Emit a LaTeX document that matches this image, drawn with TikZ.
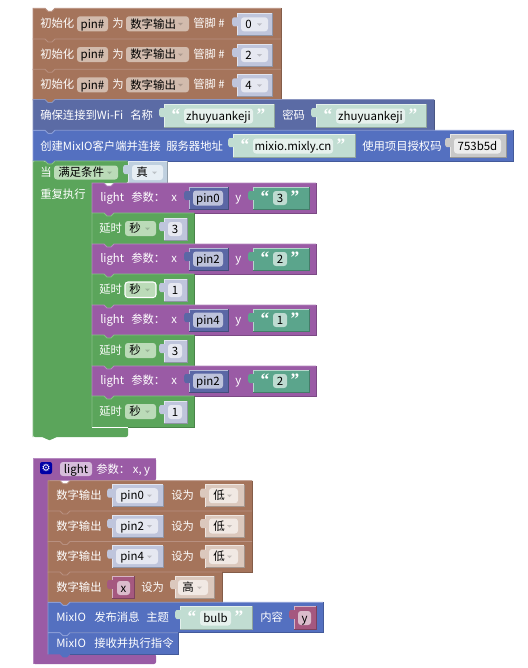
\documentclass[tikz,border=0pt]{standalone}
\usepackage{fontspec}
\setmainfont{Noto Sans CJK SC}
\newfontfamily\qfont{Liberation Serif}
\newfontfamily\gearfont{DejaVu Sans}
\definecolor{brownB}{HTML}{A5745B}\definecolor{brownL}{HTML}{B89080}\definecolor{brownF}{HTML}{D2BBAD}
\definecolor{wifiB}{HTML}{5B6BA5}\definecolor{wifiL}{HTML}{8A95C0}
\definecolor{clientB}{HTML}{5470C0}\definecolor{clientL}{HTML}{8A9DD8}
\definecolor{greenB}{HTML}{5BA55B}\definecolor{greenL}{HTML}{86C086}\definecolor{greenF}{HTML}{BBDBB8}
\definecolor{purpB}{HTML}{9A5BA5}\definecolor{purpL}{HTML}{B68AC0}\definecolor{purpF}{HTML}{D7BDDB}
\definecolor{numB}{HTML}{BFC5DC}\definecolor{numF}{HTML}{E6E8F1}
\definecolor{strB}{HTML}{C1DDD2}\definecolor{strF}{HTML}{E6F1ED}
\definecolor{tealB}{HTML}{5BA58C}\definecolor{tealF}{HTML}{BEDBD1}
\definecolor{pinB}{HTML}{5B67A5}\definecolor{pinF}{HTML}{BDC2DB}
\definecolor{grayB}{HTML}{C8C8C8}\definecolor{grayF}{HTML}{EDEDED}
\definecolor{boolB}{HTML}{BFD0DF}\definecolor{boolF}{HTML}{E6EEF4}
\definecolor{lowB}{HTML}{DBC8BD}\definecolor{lowF}{HTML}{F1E9E4}
\definecolor{varB}{HTML}{A5587F}\definecolor{varF}{HTML}{DBBCCC}
\newcounter{nn}
\tikzset{
 lbl/.style={anchor=west,inner sep=0pt,text=white,font=\fontsize{8.5pt}{10pt}\selectfont,text height=8pt,text depth=1.6pt},
 ftxt/.style={anchor=center,inner sep=0pt,text=black,font=\fontsize{8.6pt}{10pt}\selectfont,text height=8pt,text depth=1.6pt},
 dtxt/.style={anchor=west,inner sep=0pt,text=black,font=\fontsize{8.6pt}{10pt}\selectfont,text height=8pt,text depth=1.6pt},
 qtxt/.style={anchor=center,inner sep=0pt,font=\qfont\bfseries\fontsize{13pt}{13pt}\selectfont}
}
% label: x, y-centre, text
\newcommand{\tx}[3]{\stepcounter{nn}\node[lbl] (n\thenn) at (#1,#2) {#3};}
% statement block with top notch and bottom tab: x1,y1,x2,y2,fill,edge
\newcommand{\blk}[6]{\fill[#5] (#1,#2) -- ++(12,0) -- ++(3,3) -- ++(4,0) -- ++(3,-3) -- (#3,#2) -- (#3,#4) -- ({#1+22},#4) -- ++(-3,3) -- ++(-4,0) -- ++(-3,-3) -- (#1,#4) -- cycle;
 \draw[#6,line width=.6pt] (#1,#4) -- (#1,#2) -- ++(12,0) -- ++(3,3) -- ++(4,0) -- ++(3,-3) -- (#3,#2);
 \draw[#5!80!black,line width=.4pt] (#3,#2) -- (#3,#4) -- ({#1+22},#4);}
% value block with a left tab: x1,y1,x2,y2,fill
\newcommand{\val}[5]{\fill[#5] (#1,#2) -- (#3,#2) -- (#3,#4) -- (#1,#4) -- ({#1},{#2+13}) .. controls ({#1-2},{#2+14}) and ({#1-5},{#2+13}) .. ({#1-5},{#2+10}) -- ({#1-5},{#2+7}) .. controls ({#1-5},{#2+4}) and ({#1-2},{#2+3}) .. ({#1},{#2+4}) -- cycle;
 \draw[#5!75!black,line width=.4pt] (#1,#4) -- (#3,#4) -- (#3,#2);
 \draw[white!55!#5,line width=.4pt] (#1,#4) -- (#1,{#2+13}) (#1,{#2+4}) -- (#1,#2) -- (#3,#2);}
% field with centred text: x1,x2,yc,h,fill,text
\newcommand{\fld}[6]{\fill[#5,rounded corners=2.2pt] (#1,{#3-#4/2}) rectangle (#2,{#3+#4/2});
 \stepcounter{nn}\node[ftxt] (n\thenn) at ({(#1+#2)/2},#3) {#6};}
% dropdown field: x1,x2,yc,h,fill,text
\newcommand{\ddn}[6]{\fill[#5,rounded corners=2.2pt] (#1,{#3-#4/2}) rectangle (#2,{#3+#4/2});
 \stepcounter{nn}\node[dtxt] (n\thenn) at ({#1+4},#3) {#6};
 \fill[black!18!#5] ({#2-11},{#3-1}) -- ({#2-6},{#3-1}) -- ({#2-8.5},{#3+1.5}) -- cycle;}
% quotes: x-open,x-close,yc,colour
\newcommand{\qts}[4]{\stepcounter{nn}\node[qtxt,text=#4] (n\thenn) at (#1,{#3-1}) {“};
 \stepcounter{nn}\node[qtxt,text=#4] (n\thenn) at (#2,{#3-1}) {”};}
\newcommand{\lightrow}[3]{% top, pin text, string text
 \blk{92}{#1}{316}{#1+30}{purpB}{purpL}
 \tx{100}{#1+14.5}{light}\tx{131}{#1+14.5}{参数：}\tx{171}{#1+14.5}{x}
 \val{189}{#1+4}{228}{#1+26}{pinB}\fld{193}{223}{#1+15}{15}{pinF}{#2}
 \tx{235}{#1+14.5}{y}
 \val{253}{#1+4}{309}{#1+26}{tealB}\qts{265}{295}{#1+15}{white}\fld{273}{287}{#1+15}{14}{tealF}{#3}}
\newcommand{\delayrow}[3]{% top, value, field border
 \blk{92}{#1}{194}{#1+31}{greenB}{greenL}
 \tx{99}{#1+15}{延时}
 \ddn{125}{156}{#1+15.5}{15}{greenF}{秒}#3
 \val{164}{#1+5}{187}{#1+27}{numB}\fld{168}{182}{#1+16}{14}{numF}{#2}}
\newcommand{\initrow}[2]{% top, value
 \blk{33}{#1}{281}{#1+31}{brownB}{brownL}
 \tx{40}{#1+15}{初始化}\fld{77}{108}{#1+15.5}{15}{brownF}{pin\#}
 \tx{112}{#1+15}{为}\ddn{126}{189}{#1+15.5}{15}{brownF}{数字输出}
 \tx{193}{#1+15}{管脚 \#}
 \val{237}{#1+5}{272}{#1+27}{numB}\ddn{241}{268}{#1+16}{14}{numF}{#2}}
\newcommand{\outrow}[2]{% top, pin
 \blk{48}{#1}{252}{#1+31}{brownB}{brownL}
 \tx{56}{#1+15}{数字输出}
 \val{112}{#1+4}{163}{#1+26}{numB}\ddn{116}{158}{#1+15}{15}{numF}{#2}
 \tx{171}{#1+15}{设为}
 \val{205}{#1+4}{244}{#1+26}{lowB}\ddn{209}{238}{#1+15}{15}{lowF}{低}}
\begin{document}
\begin{tikzpicture}[x=0.75pt,y=-0.75pt]
\useasboundingbox (0,0) rectangle (528,668);
\fill[white] (0,0) rectangle (528,668);
% ---------- init rows
\initrow{8.3}{0}
\initrow{39}{2}
\initrow{69.3}{4}
% ---------- wifi
\blk{33}{99.5}{434}{130}{wifiB}{wifiL}
\tx{40}{115}{确保连接到Wi-Fi}\tx{130}{115}{名称}
\val{164}{104}{274}{127}{strB}\qts{176}{261}{115.5}{white}\fld{184}{253}{116}{15}{strF}{zhuyuankeji}
\tx{282}{115}{密码}
\val{316}{104}{426}{127}{strB}\qts{328}{413}{115.5}{white}\fld{336}{405}{116}{15}{strF}{zhuyuankeji}
% ---------- client
\blk{33}{130.3}{513}{161}{clientB}{clientL}
\tx{40}{146}{创建MixIO客户端并连接}\tx{166}{146}{服务器地址}
\val{233}{134}{355}{157}{strB}\qts{245}{341}{145.5}{white}\fld{253}{333}{146}{15}{strF}{mixio.mixly.cn}
\tx{362}{146}{使用项目授权码}
\val{450}{134}{506}{157}{grayB}\fld{454}{501}{146}{15}{grayF}{753b5d}
% ---------- while loop
\fill[greenB,rounded corners=1.5pt] (33,161) -- (45,161) -- (48,164) -- (52,164) -- (55,161) -- (128,161) -- (128,183) -- (92,183) -- (92,427) -- (128,427) -- (128,437) -- (55,437) -- (52,440) -- (47,440) -- (44,437) -- (33,437) -- cycle;
\draw[greenL,line width=.6pt] (33,437) -- (33,161) -- (45,161) -- (48,164) -- (52,164) -- (55,161) -- (128,161);
\tx{40}{172}{当}\ddn{54}{118}{172.5}{14}{greenF}{满足条件}
\val{128}{161}{167}{183}{boolB}\ddn{132}{163}{172.5}{15}{boolF}{真}
\tx{40}{194}{重复执行}
\lightrow{183}{pin0}{3}
\delayrow{213}{3}{}
\lightrow{244}{pin2}{2}
\delayrow{274}{1}{\draw[white,line width=.8pt,rounded corners=2.2pt] (125,282) rectangle (156,297.5);}
\lightrow{305}{pin4}{1}
\delayrow{335}{3}{}
\lightrow{366}{pin2}{2}
\delayrow{396}{1}{}
\draw[white,line width=.6pt] (92,427.6) -- (128,427.6);
% ---------- procedure
\fill[purpB,rounded corners=1.5pt] (33,458) -- (156,458) -- (156,480.7) -- (48,480.7) -- (48,654) -- (156,654) -- (156,664) -- (33,664) -- cycle;
\draw[purpL,line width=.5pt] (33,664) -- (33,458) -- (156,458);
\fill[blue!65!black,rounded corners=1.5pt] (40,462) rectangle (52,474);
\node[inner sep=0pt,text=white,font=\gearfont\fontsize{7.5pt}{8pt}\selectfont] (gear) at (46,468) {⚙};
\fill[purpF,rounded corners=2.2pt] (60,462) rectangle (92,476);
\node[ftxt] (fname) at (76,469) {light};
\tx{96}{469}{参数： x, y}
\outrow{480.7}{pin0}
\outrow{511}{pin2}
\outrow{541.5}{pin4}
\blk{48}{572}{222}{602}{brownB}{brownL}
\tx{56}{587}{数字输出}
\val{112}{576}{134}{598}{varB}\fld{117}{130}{588}{14}{varF}{x}
\tx{141}{587}{设为}
\val{175}{576}{214}{598}{lowB}\ddn{178}{208}{587.5}{15}{lowF}{高}
\blk{48}{602.3}{323}{632.6}{clientB}{clientL}
\tx{56}{617.5}{MixIO}\tx{94}{617.5}{发布消息}\tx{146}{617.5}{主题}
\val{180}{606}{252}{629}{strB}\qts{192}{239}{617.5}{white}\fld{200}{231}{618}{15}{strF}{bulb}
\tx{260}{617.5}{内容}
\val{294}{606}{316}{629}{varB}\fld{298}{311}{618}{14}{varF}{y}
\blk{48}{632.8}{178}{654.3}{clientB}{clientL}
\tx{56}{643.5}{MixIO}\tx{94}{643.5}{接收并执行指令}
\end{tikzpicture}
\end{document}
